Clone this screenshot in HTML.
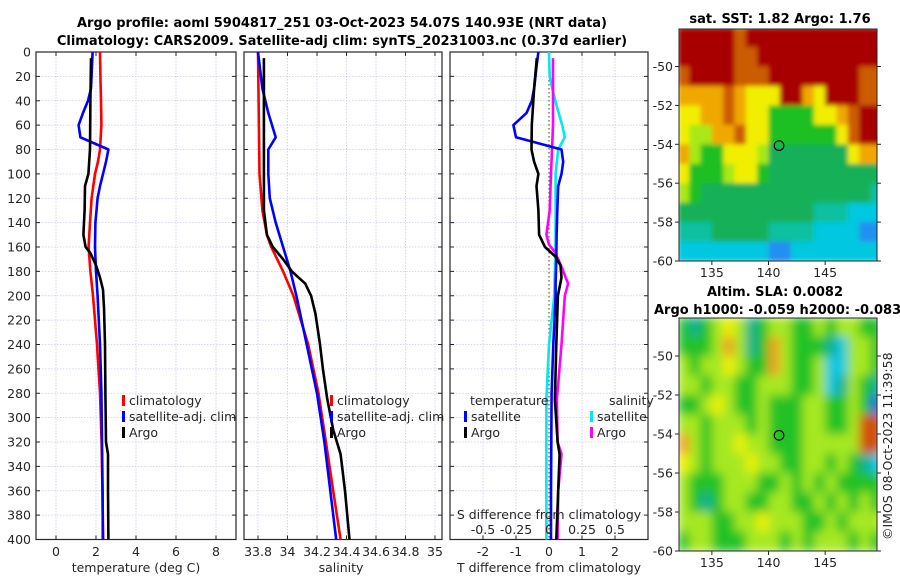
<!DOCTYPE html>
<html><head><meta charset="utf-8">
<style>
html,body{margin:0;padding:0;background:#fff;overflow:hidden;width:900px;height:580px;}
svg{display:block;font-family:"DejaVu Sans","Liberation Sans",sans-serif;}
.tk{font-size:12.5px;fill:#262626;}
.ttl{font-size:13px;font-weight:bold;fill:#000;}
</style></head>
<body>
<svg id="fig" width="900" height="580" viewBox="0 0 900 580" xmlns="http://www.w3.org/2000/svg">
<defs>
<clipPath id="cp1"><rect x="36" y="52" width="200" height="488"/></clipPath>
<clipPath id="cp2"><rect x="244" y="52" width="198" height="488"/></clipPath>
<clipPath id="cp3"><rect x="450" y="52" width="198" height="488"/></clipPath>
<clipPath id="cpm1"><rect x="679" y="29" width="198" height="232"/></clipPath>
<clipPath id="cpm2"><rect x="679" y="318" width="198" height="233"/></clipPath>
<filter id="bl1" x="0" y="0" width="1" height="1"><feGaussianBlur stdDeviation="2.5" edgeMode="duplicate"/></filter>
<filter id="bl2" x="0" y="0" width="1" height="1"><feGaussianBlur stdDeviation="5" edgeMode="duplicate"/></filter>
</defs>
<text class="ttl" x="342" y="27" text-anchor="middle">Argo profile: aoml 5904817_251 03-Oct-2023 54.07S 140.93E (NRT data)</text>
<text class="ttl" x="342" y="45" text-anchor="middle">Climatology: CARS2009. Satellite-adj clim: synTS_20231003.nc (0.37d earlier)</text>
<text class="ttl" x="780" y="23" text-anchor="middle">sat. SST: 1.82 Argo: 1.76</text>
<text class="ttl" x="775" y="296" text-anchor="middle">Altim. SLA: 0.0082</text>
<text class="ttl" x="654" y="314">Argo h1000: -0.059 h2000: -0.083</text>
<text class="tk" transform="translate(892,540) rotate(-90)">©IMOS 08-Oct-2023 11:39:58</text>
<g id="root"></g>
</svg>
<script>
// ---------- profile data (depth in m) ----------
const tempClimDepth = [0,20,40,60,80,90,100,120,140,160,180,200,240,280,320,360,400];
const tempClimVal   = [2.2,2.22,2.25,2.27,2.2,2.1,1.95,1.78,1.7,1.63,1.72,1.85,2.05,2.2,2.28,2.32,2.36];
const tempSatDepth = [0,30,40,50,60,70,80,90,100,110,120,140,160,180,200,240,280,320,360,400];
const tempSatVal   = [1.83,1.75,1.6,1.35,1.13,1.22,2.62,2.5,2.35,2.2,2.08,1.97,1.95,2.0,2.08,2.2,2.27,2.3,2.33,2.34];
const tempArgoDepth = [5,40,80,100,110,130,150,160,165,175,185,195,210,240,280,320,330,360,400];
const tempArgoVal   = [1.75,1.72,1.7,1.62,1.45,1.43,1.37,1.48,1.72,2.0,2.2,2.35,2.4,2.45,2.47,2.5,2.6,2.6,2.62];

const salClimDepth = [0,100,130,150,160,170,180,200,240,280,320,360,400];
const salClimVal   = [33.8,33.81,33.83,33.86,33.89,33.93,33.97,34.04,34.14,34.21,34.26,34.31,34.36];
const salSatDepth = [0,30,50,70,80,100,120,140,160,180,200,240,280,320,360,400];
const salSatVal   = [33.8,33.83,33.87,33.92,33.87,33.87,33.88,33.92,33.97,34.02,34.06,34.13,34.2,34.25,34.29,34.33];
const salArgoDepth = [5,100,130,150,160,170,180,190,200,215,240,260,285,310,330,360,400];
const salArgoVal   = [33.84,33.84,33.84,33.86,33.9,33.97,34.03,34.12,34.16,34.19,34.22,34.24,34.27,34.31,34.36,34.39,34.42];

const dTSatDepth = [0,10,30,40,50,60,70,80,90,100,110,130,150,170,190,200,240,280,320,360,400];
const dTSatVal   = [-0.32,-0.37,-0.45,-0.52,-0.68,-1.08,-1.0,0.38,0.43,0.38,0.28,0.25,0.23,0.22,0.2,0.2,0.13,0.08,0.07,0.06,0.06];
const dTArgoDepth = [5,30,60,80,90,100,110,130,150,160,168,175,185,200,240,285,320,330,360,400];
const dTArgoVal   = [-0.37,-0.45,-0.52,-0.53,-0.45,-0.32,-0.38,-0.32,-0.3,-0.12,0.2,0.35,0.38,0.27,0.22,0.18,0.26,0.32,0.28,0.22];
const dSSatDepth = [0,20,30,45,60,70,80,100,150,180,200,240,285,400];
const dSSatVal   = [0,0.005,0.025,0.06,0.1,0.12,0.07,0.05,0.05,0.045,0.04,0.0,-0.02,-0.02];
const dSArgoDepth = [5,60,100,130,150,158,165,175,190,200,240,285,320,330,360,400];
const dSArgoVal   = [0.03,0.03,0.015,0.005,-0.02,0.0,0.05,0.09,0.145,0.12,0.095,0.06,0.065,0.095,0.07,0.065];

const depthTicks = [0,20,40,60,80,100,120,140,160,180,200,220,240,260,280,300,320,340,360,380,400];
const tempTicks = [0,2,4,6,8];
const salTicks = [33.8,34,34.2,34.4,34.6,34.8,35];
const salTickLabels = ["33.8","34","34.2","34.4","34.6","34.8","35"];
const dTTicks = [-2,-1,0,1,2];
const dSTicks = [-0.5,-0.25,0,0.25,0.5];
const dSTickLabels = ["-0.5","-0.25","0","0.25","0.5"];

// ---------- map data (rows lat -48..-60, cols lon 132..149) ----------
const mapLonStart = 132, mapLatStart = -48;
const sstGrid = [
[9,9,9,9,9,8,9,9,9,9,9,9,9,9,9,9,9,9],
[9,9,9,9,9,8,8,9,9,9,9,9,9,9,9,9,9,9],
[8,9,9,9,9,8,8,8,9,9,9,9,9,9,9,9,8,8],
[7,7,7,7,8,7,6,6,6,9,9,7,6,9,9,9,8,8],
[6,6,7,7,8,7,6,6,4,4,4,4,6,6,7,8,9,9],
[6,5,5,7,7,8,6,6,4,4,4,4,4,4,6,8,9,9],
[7,5,4,4,6,6,6,5,3,3,3,3,3,3,3,6,7,7],
[6,4,4,4,5,6,6,4,3,3,3,3,3,3,3,3,3,3],
[5,4,3,3,3,3,3,3,3,3,3,3,3,3,3,3,3,2],
[3,3,3,3,3,3,3,3,3,3,3,3,2,2,2,1,1,1],
[2,2,2,3,3,3,3,3,2,2,2,2,1,1,1,1,0,0],
[1,1,1,1,1,1,1,1,0,0,1,1,1,1,1,1,1,1]];
const sstColors = ["#2090f0","#00c8e0","#10c0a0","#14b058","#1cc020","#a8e818","#f2ee00","#f0a800","#cc5c00","#a80000"];
const slaGrid = [
[3,2,3,4,5,4,2,3,4,4,3,3,4,3,4,4,3,3],
[3,3,3,4,6,4,2,3,6,4,3,3,3,2,1,4,4,3],
[4,3,4,4,5,4,3,3,6,4,3,3,4,1,1,4,4,3],
[4,4,3,4,4,3,3,4,4,4,3,3,4,1,2,4,3,2],
[3,3,4,5,4,3,3,4,3,3,3,4,4,3,3,4,3,0],
[4,4,3,4,4,4,3,4,3,3,3,4,4,3,3,4,7,7],
[6,4,3,4,4,5,4,4,3,3,3,4,4,4,4,4,7,7],
[5,4,3,4,4,4,5,4,4,3,3,4,4,3,4,3,2,1],
[4,3,3,3,4,4,4,3,3,4,3,4,3,4,3,3,3,3],
[4,3,2,3,4,4,3,3,4,4,3,3,4,3,4,3,4,3],
[4,4,4,3,3,4,4,5,4,4,4,3,3,4,3,4,4,4],
[3,4,4,3,3,3,4,4,4,3,4,3,4,4,4,3,4,3]];
const slaColors = ["#2060e0","#10c8e0","#10b090","#22c228","#a6e822","#eef000","#f0a020","#d05010"];
const argoLon = [140.93], argoLat = [-54.07];
const latTicks = [-50,-52,-54,-56,-58,-60];
const lonTicks = [135,140,145];

// ---------- helpers ----------
const NS = "http://www.w3.org/2000/svg";
const root = document.getElementById('root');
function mk(tag, attrs, parent){ const e=document.createElementNS(NS,tag); for(const k in attrs) e.setAttribute(k,attrs[k]); (parent||root).appendChild(e); return e; }
const yD = d => 52 + d*(487.5/400);
const x1 = t => 56 + t*20;
const x2 = s => 258 + (s-33.8)*147.5;
const x3T = t => 549 + t*33;
const x3S = s => 549 + s*132;
const mX = lon => 679 + (lon-132.1)*11.33;
const mY1 = lat => 261 - (lat+60)*19.45;
const mY2 = lat => 551 - (lat+60)*19.5;

function panel(name, px, pw, xTickPos, xTickLbl, showYLbl){
  const g = mk('g',{});
  
  
  depthTicks.forEach(d=>{ const l=mk('line',{x1:px,x2:px+pw,y1:yD(d),y2:yD(d),stroke:'#c5cbe6','stroke-width':0.8,'stroke-dasharray':'1.5,1.5'},g);
      });
  xTickPos.forEach(x=>{ const l=mk('line',{x1:x,x2:x,y1:52,y2:539.5,stroke:'#c5cbe6','stroke-width':0.8,'stroke-dasharray':'1.5,1.5'},g);
      });
  const fr = mk('rect',{x:px,y:52,width:pw,height:487.5,fill:'none',stroke:'#262626','stroke-width':1.2},g);
   
  depthTicks.forEach(d=>{
    mk('line',{x1:px,x2:px+4,y1:yD(d),y2:yD(d),stroke:'#262626','stroke-width':1},g);
    mk('line',{x1:px+pw-4,x2:px+pw,y1:yD(d),y2:yD(d),stroke:'#262626','stroke-width':1},g);
    if(showYLbl){ const t=mk('text',{x:px-5,y:yD(d)+4.5,'text-anchor':'end',class:'tk'},g); t.textContent=d;
        }
  });
  xTickPos.forEach((x,i)=>{
    mk('line',{x1:x,x2:x,y1:539.5,y2:535.5,stroke:'#262626','stroke-width':1},g);
    mk('line',{x1:x,x2:x,y1:52,y2:56,stroke:'#262626','stroke-width':1},g);
    if(xTickLbl){ const t=mk('text',{x:x,y:556,'text-anchor':'middle',class:'tk'},g); t.textContent=xTickLbl[i];
        }
  });
  return g;
}
function line(depths, vals, fx, color, name, clip){
  const pts = depths.map((d,i)=>fx(vals[i]).toFixed(1)+','+yD(d).toFixed(1)).join(' ');
  const p = mk('polyline',{points:pts,fill:'none',stroke:color,'stroke-width':2.6,'stroke-linejoin':'round','clip-path':'url(#'+clip+')'});
  
  
}
function legend(x, y, color, label, name){
  const b = mk('rect',{x:x,y:y-10,width:3,height:11,fill:color});
  
  
  const t = mk('text',{x:x+7,y:y,class:'tk'}); t.textContent = label;
  
  
}
function txt(x,y,s,name,anchor){ const t=mk('text',{x:x,y:y,class:'tk','text-anchor':anchor||'start'}); t.textContent=s;
  
  
  return t; }

// ---------- panel 1: temperature ----------
panel('temperature-panel',36,200,tempTicks.map(x1),tempTicks.map(String),true);
line(tempClimDepth,tempClimVal,x1,'#ff0000','temp-climatology-line','cp1');
line(tempSatDepth,tempSatVal,x1,'#0000ff','temp-satellite-line','cp1');
line(tempArgoDepth,tempArgoVal,x1,'#000000','temp-argo-line','cp1');
txt(136,572,'temperature (deg C)','temperature-axis-title','middle');
legend(122,405,'#ff0000','climatology','legend-climatology');
legend(122,421,'#0000ff','satellite-adj. clim','legend-satellite-adj');
legend(122,437,'#000000','Argo','legend-argo');

// ---------- panel 2: salinity ----------
panel('salinity-panel',244,198,salTicks.map(x2),salTickLabels,false);
line(salClimDepth,salClimVal,x2,'#ff0000','sal-climatology-line','cp2');
line(salSatDepth,salSatVal,x2,'#0000ff','sal-satellite-line','cp2');
line(salArgoDepth,salArgoVal,x2,'#000000','sal-argo-line','cp2');
txt(341,572,'salinity','salinity-axis-title','middle');
legend(330,405,'#ff0000','climatology','legend-sal-climatology');
legend(330,421,'#0000ff','satellite-adj. clim','legend-sal-satellite-adj');
legend(330,437,'#000000','Argo','legend-sal-argo');

// ---------- panel 3: differences ----------
panel('difference-panel',450,198,[-2,-1,1,2].map(x3T),null,false);
dTTicks.forEach(t=>{ txt(x3T(t),556,String(t),'t-diff-tick-label','middle'); });
const zl = mk('line',{x1:x3T(0),x2:x3T(0),y1:52,y2:539.5,stroke:'#4a6a2a','stroke-width':1.2,'stroke-dasharray':'1.5,2.5'});


line(dSSatDepth,dSSatVal,x3S,'#00e8f0','s-diff-satellite-line','cp3');
line(dSArgoDepth,dSArgoVal,x3S,'#ff00ff','s-diff-argo-line','cp3');
line(dTSatDepth,dTSatVal,x3T,'#0000ff','t-diff-satellite-line','cp3');
line(dTArgoDepth,dTArgoVal,x3T,'#000000','t-diff-argo-line','cp3');
txt(549,572,'T difference from climatology','t-diff-axis-title','middle');
txt(549,519,'S difference from climatology','s-diff-axis-title','middle');
dSTicks.forEach((s,i)=>{ txt(x3S(s),534,dSTickLabels[i],'s-diff-tick-label','middle'); });
txt(470,405,'temperature','legend-temperature-heading');
legend(464,421,'#0000ff','satellite','legend-t-satellite');
legend(464,437,'#000000','Argo','legend-t-argo');
txt(609,405,'salinity','legend-salinity-heading');
legend(590,421,'#00e8f0','satellite','legend-s-satellite');
legend(590,437,'#ff00ff','Argo','legend-s-argo');

// ---------- maps ----------
function drawMap(grid, colors, yFn, clip, filt, name, top, bottom){
  const g = mk('g',{'clip-path':'url(#'+clip+')'});
  
  
  const inner = mk('g',{filter:'url(#'+filt+')'},g);
  grid.forEach((row,r)=>row.forEach((v,c)=>{
    const xa=mX(mapLonStart+c), xb=mX(mapLonStart+c+1);
    const ya=yFn(mapLatStart-r), yb=yFn(mapLatStart-r-1);
    const cell = mk('rect',{x:xa.toFixed(1),y:ya.toFixed(1),width:(xb-xa+0.6).toFixed(1),height:(yb-ya+0.6).toFixed(1),fill:colors[v]},inner);
    
    
  }));
  argoLon.forEach((lon,i)=>{
    const c = mk('circle',{cx:mX(lon),cy:yFn(argoLat[i]),r:4.8,fill:'none',stroke:'#000','stroke-width':1.1},g);
    
    
  });
  const fr = mk('rect',{x:679,y:top,width:198,height:bottom-top,fill:'none',stroke:'#262626','stroke-width':1});
  
  
  latTicks.forEach(lat=>{
    mk('line',{x1:675,x2:679,y1:yFn(lat),y2:yFn(lat),stroke:'#262626'});
    mk('line',{x1:877,x2:881,y1:yFn(lat),y2:yFn(lat),stroke:'#262626'});
    txt(673,yFn(lat)+4.5,String(lat),'lat-tick-label','end');
  });
  lonTicks.forEach(lon=>{
    mk('line',{x1:mX(lon),x2:mX(lon),y1:bottom,y2:bottom+4,stroke:'#262626'});
    txt(mX(lon),bottom+16,String(lon),'lon-tick-label','middle');
  });
}
drawMap(sstGrid,sstColors,mY1,'cpm1','bl1','sst-map',29,261);
drawMap(slaGrid,slaColors,mY2,'cpm2','bl2','sla-map',318,551);
</script>
</body></html>
